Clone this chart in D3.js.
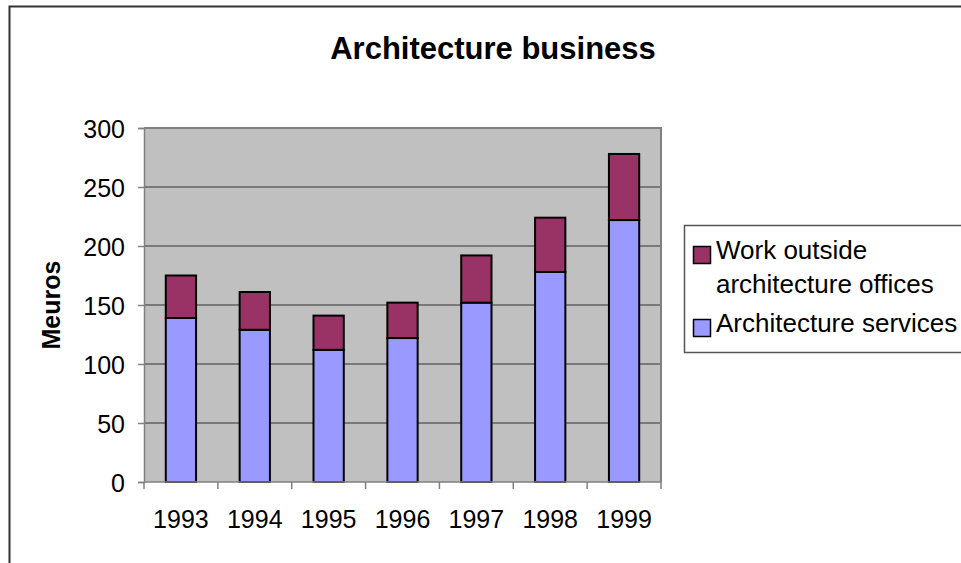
<!DOCTYPE html>
<html>
<head>
<meta charset="utf-8">
<script src="https://cdn.jsdelivr.net/npm/d3@7"></script>
<style>
  body { margin: 0; background: #fff; }
  svg { display: block; font-family: Arial, "Liberation Sans", sans-serif; }
</style>
</head>
<body>
<div id="chart"></div>
<script>
// Data (Meuros)
const years = ['1993', '1994', '1995', '1996', '1997', '1998', '1999'];
const architectureServices = [139, 129, 112, 122, 152, 178, 222];
const workOutside = [36, 32, 29, 30, 40, 46, 56];
const yTicks = [0, 50, 100, 150, 200, 250, 300];
const seriesNames = ['Work outside architecture offices', 'Architecture services'];

const config = {
    width: 961,
    height: 563,
    margin: {top: 128, right: 300, bottom: 81, left: 144}
};
const colors = {services: '#9999ff', outside: '#993366', plot: '#c0c0c0'};

const innerW = config.width - config.margin.left - config.margin.right;   // 517
const innerH = config.height - config.margin.top - config.margin.bottom;  // 354

const svg = d3.select('#chart').append('svg')
    .attr('width', config.width)
    .attr('height', config.height);

// Outer chart frame (runs off the right/bottom edge like the original)
svg.append('rect')
    .attr('x', 9.5).attr('y', 6.5)
    .attr('width', 1000).attr('height', 700)
    .attr('fill', 'none')
    .attr('stroke', '#333')
    .attr('stroke-width', 2);

// Title
svg.append('text')
    .attr('x', 493).attr('y', 59)
    .attr('text-anchor', 'middle')
    .style('font-size', '31px')
    .style('font-weight', 'bold')
    .text('Architecture business');

const chart = svg.append('g')
    .attr('transform', `translate(${config.margin.left},${config.margin.top})`);

const x = d3.scaleBand().domain(years).range([0, innerW]).padding(0);
const y = d3.scaleLinear().domain([0, 300]).range([innerH, 0]);
const barW = x.bandwidth() * 0.41;

// Plot background
chart.append('rect')
    .attr('width', innerW).attr('height', innerH)
    .attr('fill', colors.plot);

// Gridlines
chart.selectAll('.grid')
    .data(yTicks.filter(d => d > 0 && d < 300))
    .join('line')
    .attr('class', 'grid')
    .attr('x1', 0).attr('x2', innerW)
    .attr('y1', d => y(d)).attr('y2', d => y(d))
    .attr('stroke', '#333')
    .attr('stroke-width', 1);

// Plot border (top/right)
chart.append('path')
    .attr('d', `M0,${y(300)}H${innerW}V${innerH}`)
    .attr('fill', 'none')
    .attr('stroke', '#808080')
    .attr('stroke-width', 2);

// Stacked bars
const stackData = years.map((yr, i) => ({year: yr, services: architectureServices[i], outside: workOutside[i]}));

chart.selectAll('.bar-services')
    .data(stackData)
    .join('rect')
    .attr('class', 'bar-services')
    .attr('x', d => x(d.year) + (x.bandwidth() - barW) / 2)
    .attr('y', d => y(d.services))
    .attr('width', barW)
    .attr('height', d => y(0) - y(d.services))
    .attr('fill', colors.services)
    .attr('stroke', '#000')
    .attr('stroke-width', 2);

chart.selectAll('.bar-outside')
    .data(stackData)
    .join('rect')
    .attr('class', 'bar-outside')
    .attr('x', d => x(d.year) + (x.bandwidth() - barW) / 2)
    .attr('y', d => y(d.services + d.outside))
    .attr('width', barW)
    .attr('height', d => y(d.services) - y(d.services + d.outside))
    .attr('fill', colors.outside)
    .attr('stroke', '#000')
    .attr('stroke-width', 2);

// Y axis
const yAxis = d3.axisLeft(y).tickValues(yTicks).tickSize(6).tickPadding(13);
chart.append('g')
    .attr('class', 'axis y-axis')
    .call(yAxis)
    .call(g => g.selectAll('path, line').attr('stroke', '#808080').attr('stroke-width', 1.5))
    .call(g => g.selectAll('text').attr('fill', '#000').style('font-size', '25px').attr('dy', '0.36em'));

// X axis: ticks at category boundaries, labels centred under bars
const xAxisG = chart.append('g')
    .attr('class', 'axis x-axis')
    .attr('transform', `translate(0,${innerH})`);
xAxisG.append('line')
    .attr('x1', 0).attr('x2', innerW)
    .attr('stroke', '#808080').attr('stroke-width', 1.5);
xAxisG.selectAll('.xtick')
    .data(years.map(d => x(d)).concat([innerW]))
    .join('line')
    .attr('class', 'xtick')
    .attr('x1', d => d).attr('x2', d => d)
    .attr('y1', 0).attr('y2', 7)
    .attr('stroke', '#808080').attr('stroke-width', 1.5);
xAxisG.selectAll('.xlabel')
    .data(years)
    .join('text')
    .attr('class', 'xlabel')
    .attr('x', d => x(d) + x.bandwidth() / 2)
    .attr('y', 46)
    .attr('text-anchor', 'middle')
    .style('font-size', '25px')
    .text(d => d);

// Y axis title
svg.append('text')
    .attr('transform', 'translate(60,305) rotate(-90)')
    .attr('text-anchor', 'middle')
    .style('font-size', '25px')
    .style('font-weight', 'bold')
    .text('Meuros');

// Legend
const legend = svg.append('g').attr('transform', 'translate(684,225)');
legend.append('rect')
    .attr('x', 0.5).attr('y', 0.5)
    .attr('width', 400).attr('height', 127)
    .attr('fill', '#fff')
    .attr('stroke', '#555')
    .attr('stroke-width', 1.5);

const legendItems = [
    {lines: ['Work outside', 'architecture offices'], color: colors.outside, y: 21},
    {lines: ['Architecture services'], color: colors.services, y: 94}
];
legendItems.forEach(item => {
    legend.append('rect')
        .attr('x', 9.5).attr('y', item.y + 0.5)
        .attr('width', 17).attr('height', 17)
        .attr('fill', item.color)
        .attr('stroke', '#000')
        .attr('stroke-width', 1.5);
    legend.append('text')
        .attr('x', 32)
        .attr('y', item.y + 13)
        .style('font-size', '26px')
        .selectAll('tspan')
        .data(item.lines)
        .join('tspan')
        .attr('x', 32)
        .attr('dy', (d, j) => j === 0 ? 0 : 34)
        .text(d => d);
});
</script>
</body>
</html>
